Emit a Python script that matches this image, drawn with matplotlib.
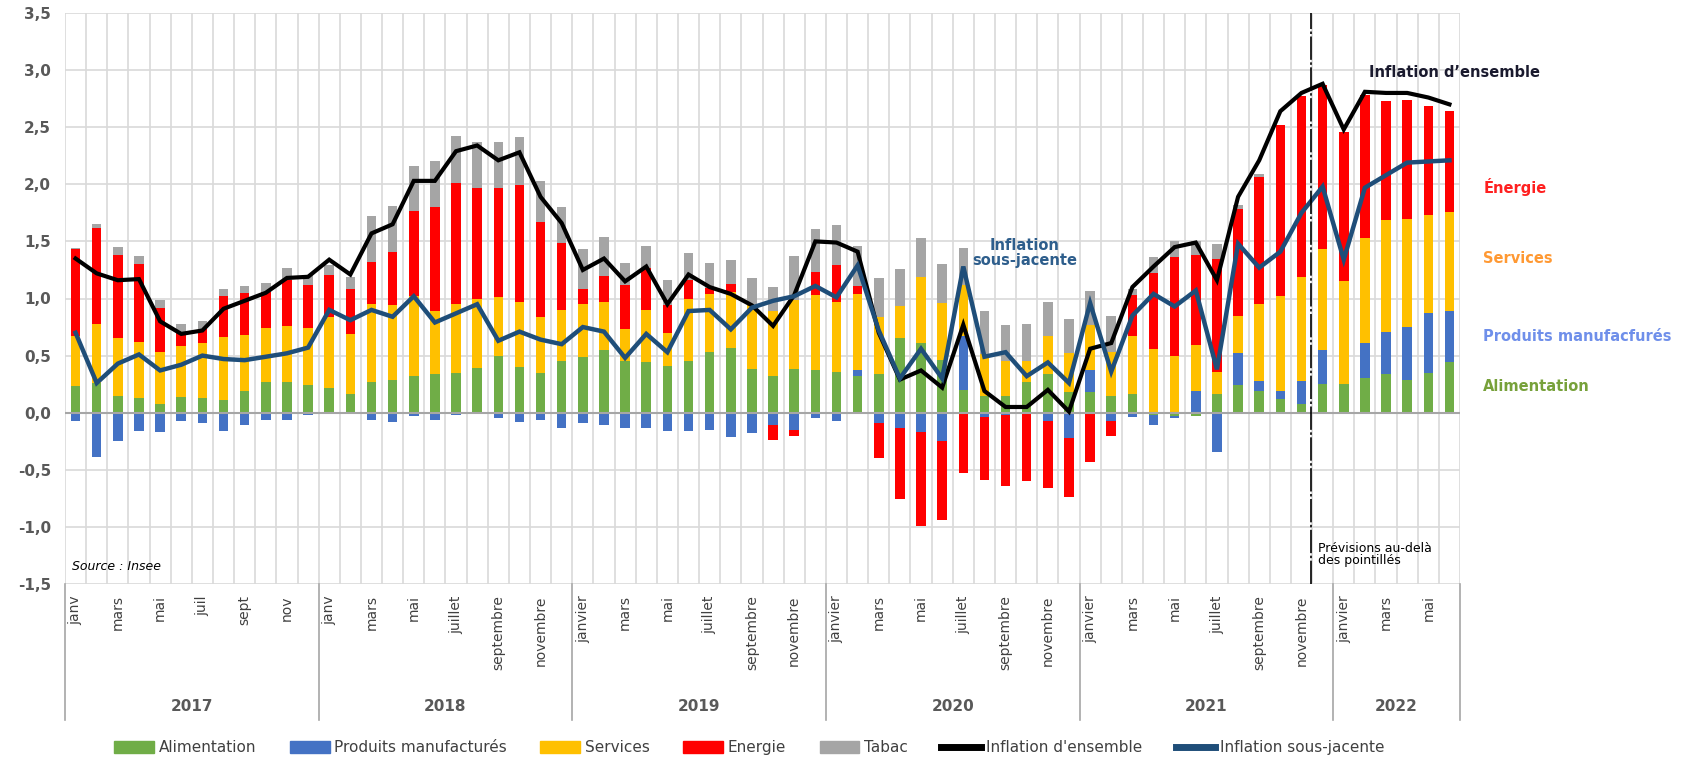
import numpy as np
import matplotlib.pyplot as plt
from matplotlib.patches import Patch
from matplotlib.lines import Line2D

# contributions a l'inflation (points), janv 2017 -> juin 2022
alimentation = [0.23, 0.26, 0.15, 0.13, 0.08, 0.14, 0.13, 0.11, 0.19, 0.27, 0.27, 0.24,
                0.22, 0.16, 0.27, 0.29, 0.32, 0.34, 0.35, 0.39, 0.50, 0.40, 0.35, 0.45,
                0.49, 0.55, 0.45, 0.44, 0.41, 0.45, 0.53, 0.57, 0.38, 0.32, 0.38, 0.37,
                0.36, 0.32, 0.34, 0.65, 0.61, 0.46, 0.20, 0.15, 0.15, 0.27, 0.34, 0.18,
                0.18, 0.15, 0.16, -0.02, -0.03, -0.03, 0.16, 0.24, 0.19, 0.12, 0.08, 0.25,
                0.25, 0.30, 0.34, 0.29, 0.35, 0.44]
manufactures = [-0.07, -0.39, -0.25, -0.16, -0.17, -0.07, -0.09, -0.16, -0.11, -0.06, -0.06, -0.02,
                0.0, 0.0, -0.06, -0.08, -0.03, -0.06, -0.02, 0.0, -0.05, -0.08, -0.06, -0.13,
                -0.09, -0.11, -0.13, -0.13, -0.16, -0.16, -0.15, -0.21, -0.18, -0.11, -0.15, -0.05,
                -0.07, 0.05, -0.09, -0.13, -0.17, -0.25, 0.47, -0.04, -0.02, 0.0, -0.07, -0.22,
                0.19, -0.07, -0.04, -0.09, -0.02, 0.19, -0.34, 0.28, 0.09, 0.07, 0.20, 0.30,
                0.0, 0.31, 0.37, 0.46, 0.52, 0.45]
services = [0.44, 0.52, 0.50, 0.49, 0.45, 0.44, 0.48, 0.55, 0.49, 0.47, 0.49, 0.50,
            0.62, 0.53, 0.68, 0.65, 0.70, 0.55, 0.60, 0.61, 0.51, 0.57, 0.49, 0.45,
            0.46, 0.42, 0.28, 0.46, 0.29, 0.55, 0.51, 0.49, 0.56, 0.57, 0.61, 0.66,
            0.61, 0.67, 0.50, 0.28, 0.58, 0.50, 0.45, 0.36, 0.30, 0.18, 0.33, 0.34,
            0.40, 0.38, 0.51, 0.56, 0.50, 0.40, 0.20, 0.33, 0.67, 0.83, 0.91, 0.88,
            0.90, 0.92, 0.98, 0.95, 0.86, 0.87]
energie = [0.76, 0.84, 0.73, 0.68, 0.39, 0.12, 0.12, 0.36, 0.37, 0.32, 0.40, 0.38,
           0.37, 0.39, 0.37, 0.47, 0.75, 0.91, 1.06, 0.97, 0.96, 1.02, 0.83, 0.59,
           0.13, 0.23, 0.39, 0.37, 0.24, 0.16, 0.05, 0.07, 0.0, -0.13, -0.05, 0.20,
           0.32, 0.07, -0.31, -0.63, -0.82, -0.69, -0.53, -0.55, -0.62, -0.60, -0.59, -0.52,
           -0.43, -0.13, 0.36, 0.66, 0.86, 0.79, 0.99, 0.93, 1.11, 1.50, 1.58, 1.44,
           1.31, 1.25, 1.04, 1.04, 0.96, 0.88]
tabac = [0.01, 0.03, 0.07, 0.07, 0.07, 0.08, 0.07, 0.06, 0.06, 0.08, 0.11, 0.09,
         0.08, 0.11, 0.40, 0.40, 0.39, 0.40, 0.41, 0.40, 0.40, 0.42, 0.36, 0.31,
         0.35, 0.34, 0.19, 0.19, 0.22, 0.24, 0.22, 0.21, 0.24, 0.21, 0.38, 0.38,
         0.35, 0.35, 0.34, 0.33, 0.34, 0.34, 0.32, 0.38, 0.32, 0.33, 0.30, 0.30,
         0.30, 0.32, 0.05, 0.14, 0.14, 0.12, 0.13, 0.04, 0.03, 0.0, 0.0, 0.0,
         0.0, 0.0, 0.0, 0.0, 0.0, 0.0]
ensemble = [1.35, 1.22, 1.16, 1.17, 0.80, 0.69, 0.72, 0.91, 0.98, 1.05, 1.18, 1.19,
            1.34, 1.21, 1.57, 1.65, 2.03, 2.03, 2.29, 2.34, 2.21, 2.28, 1.89, 1.66,
            1.25, 1.35, 1.15, 1.28, 0.95, 1.21, 1.10, 1.04, 0.94, 0.76, 1.03, 1.50,
            1.49, 1.41, 0.70, 0.29, 0.37, 0.22, 0.77, 0.19, 0.05, 0.05, 0.20, 0.01,
            0.56, 0.61, 1.10, 1.28, 1.45, 1.49, 1.16, 1.89, 2.21, 2.64, 2.80, 2.88,
            2.48, 2.81, 2.80, 2.80, 2.76, 2.70]
sous_jacente = [0.70, 0.26, 0.43, 0.51, 0.37, 0.42, 0.50, 0.47, 0.46, 0.49, 0.52, 0.57,
                0.90, 0.81, 0.90, 0.84, 1.02, 0.79, 0.87, 0.95, 0.63, 0.71, 0.64, 0.60,
                0.75, 0.71, 0.48, 0.69, 0.53, 0.89, 0.90, 0.73, 0.92, 0.98, 1.02, 1.11,
                1.01, 1.29, 0.72, 0.30, 0.56, 0.30, 1.28, 0.49, 0.53, 0.32, 0.44, 0.26,
                0.96, 0.36, 0.85, 1.04, 0.93, 1.07, 0.38, 1.48, 1.27, 1.41, 1.75, 1.98,
                1.34, 1.97, 2.08, 2.19, 2.20, 2.21]

annees = ['2017', '2018', '2019', '2020', '2021', '2022']
mois_2017 = ['janv', '', 'mars', '', 'mai', '', 'juil', '', 'sept', '', 'nov', '']
mois_2018 = ['janv', '', 'mars', '', 'mai', '', 'juillet', '', 'septembre', '', 'novembre', '']
mois_long = ['janvier', '', 'mars', '', 'mai', '', 'juillet', '', 'septembre', '', 'novembre', '']
mois = mois_2017 + mois_2018 + mois_long * 3 + mois_long[:6]

series = [alimentation, manufactures, services, energie, tabac]
noms = ['Alimentation', 'Produits manufacturés', 'Services', 'Energie', 'Tabac']
couleurs = ['#70AD47', '#4472C4', '#FFC000', '#FF0000', '#A5A5A5']

n = len(ensemble)
x = np.arange(n)

fig = plt.figure(figsize=(16.84, 7.6), dpi=100)
ax = fig.add_axes([65 / 1684, 176 / 760, 1395 / 1684, 571 / 760])

pos = np.zeros(n)
neg = np.zeros(n)
for vals, c in zip(series, couleurs):
    v = np.array(vals)
    base = np.where(v >= 0, pos, neg)
    ax.bar(x, v, bottom=base, width=0.45, color=c, zorder=2)
    pos = pos + np.clip(v, 0, None)
    neg = neg + np.clip(v, None, 0)

ax.plot(x, ensemble, color='black', lw=3, zorder=4, solid_joinstyle='miter')
ax.plot(x, sous_jacente, color='#1F4E79', lw=3.2, zorder=5, solid_joinstyle='miter')
ax.axhline(0, color='#A6A6A6', lw=1.5, zorder=3)
ax.axvline(58.45, color='black', lw=1.2, ls=(0, (14, 1.5, 1.5, 1.5)), zorder=6)

ax.set_xlim(-0.5, n - 0.5)
ax.set_ylim(-1.5, 3.5)
ax.set_yticks(np.arange(-1.5, 3.51, 0.5))
ax.set_yticklabels([f'{t:.1f}'.replace('.', ',') for t in np.arange(-1.5, 3.51, 0.5)],
                   fontsize=11, fontweight='bold', color='#595959')
ax.set_xticks([])
ax.set_xticks(np.arange(-0.5, n, 1), minor=True)
ax.tick_params(axis='x', which='both', length=0, labelbottom=False)
ax.tick_params(axis='y', length=0, pad=10)
ax.grid(axis='y', which='major', color='#D9D9D9', lw=1.2, zorder=0)
ax.grid(axis='x', which='minor', color='#D9D9D9', lw=1.2, zorder=0)
for s in ax.spines.values():
    s.set_visible(False)

# axe des dates
tr = ax.get_xaxis_transform()
for i, m in enumerate(mois):
    if m:
        ax.text(i, -0.02, m, transform=tr, rotation=90, ha='center', va='top',
                fontsize=10, color='#404040')
for k, a in enumerate(annees):
    debut = k * 12 - 0.5
    fin = min(debut + 12, n - 0.5)
    ax.plot([debut, debut], [0, -0.238], transform=tr, color='#A6A6A6', lw=1.2, clip_on=False)
    ax.text((debut + fin) / 2, -0.215, a, transform=tr, ha='center', va='center',
            fontsize=11, fontweight='bold', color='#595959')
ax.plot([n - 0.5, n - 0.5], [0, -0.238], transform=tr, color='#A6A6A6', lw=1.2, clip_on=False)

# annotations
ax.text(-0.15, -1.35, 'Source : Insee', fontsize=9, style='italic', va='center')
ax.text(58.8, -1.24, 'Prévisions au-delà\ndes pointillés', fontsize=9, va='center',
        linespacing=0.95)
ax.text(61.2, 2.98, 'Inflation d\u2019ensemble', fontsize=10.5, fontweight='bold',
        color='#1a1a2e', va='center')
ax.text(44.9, 1.40, 'Inflation\nsous-jacente', fontsize=10.5, fontweight='bold',
        color='#2E5E8C', ha='center', va='center', linespacing=0.95)
ax.text(66.6, 1.98, 'Énergie', fontsize=10.5, fontweight='bold', color='#FF2020',
        va='center', clip_on=False)
ax.text(66.6, 1.35, 'Services', fontsize=10.5, fontweight='bold', color='#FF9933',
        va='center', clip_on=False)
ax.text(66.6, 0.67, 'Produits manufacfurés', fontsize=10.5, fontweight='bold',
        color='#6F8FEA', va='center', clip_on=False)
ax.text(66.6, 0.23, 'Alimentation', fontsize=10.5, fontweight='bold', color='#77A13A',
        va='center', clip_on=False)

handles = [Patch(color=c, label=l) for c, l in zip(couleurs, noms)]
handles.append(Line2D([], [], color='black', lw=5, label="Inflation d'ensemble"))
handles.append(Line2D([], [], color='#1F4E79', lw=5, label='Inflation sous-jacente'))
fig.legend(handles=handles, loc='center', bbox_to_anchor=(0.445, 0.016), ncol=7,
           frameon=False, fontsize=11, handlelength=2.6, handleheight=0.8,
           columnspacing=2.2, handletextpad=0.3, labelcolor='#404040')

fig.savefig('out.png', dpi=100)
